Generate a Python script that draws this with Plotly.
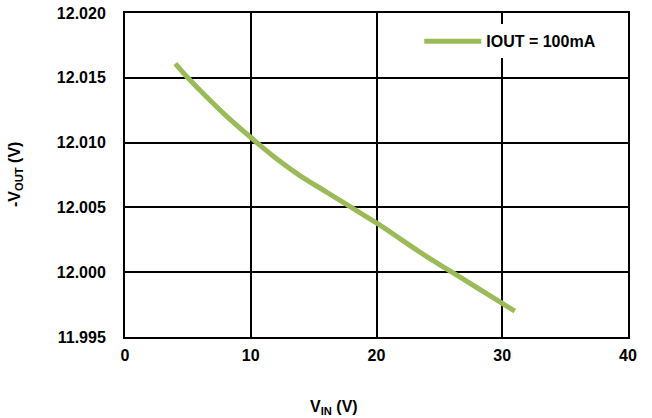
import plotly.graph_objects as go

vin = [4, 5, 6, 8, 10, 12, 14, 16, 18, 20, 22, 24, 26, 28, 30, 31]
vout = [12.0161, 12.0150, 12.0140, 12.0121, 12.0104, 12.0088, 12.0074, 12.0062,
        12.0050, 12.0038, 12.0025, 12.0012, 12.0000, 11.9988, 11.9976, 11.9970]
series_name = "IOUT = 100mA"
x_ticks = [0, 10, 20, 30, 40]
y_ticks = [11.995, 12.000, 12.005, 12.010, 12.015, 12.020]

FONT = "Liberation Sans, Arial, sans-serif"

fig = go.Figure()
fig.add_trace(go.Scatter(
    x=vin, y=vout, mode="lines", name=series_name,
    line=dict(color="#9BBB59", width=5, shape="spline"),
))

fig.update_layout(
    width=652, height=418,
    margin=dict(l=125, r=24, t=13, b=81),
    paper_bgcolor="white", plot_bgcolor="white",
    font=dict(family=FONT, size=16, color="black"),
    showlegend=True,
    legend=dict(
        x=0.585, y=0.965, xanchor="left", yanchor="top",
        bgcolor="white", borderwidth=0,
        font=dict(family=FONT, size=16, color="black", weight="bold"),
        itemwidth=57,
    ),
)

fig.update_xaxes(
    range=[0, 40], tickvals=x_ticks, ticktext=[f"<b>{v}</b>" for v in x_ticks],
    showgrid=True, gridcolor="black", gridwidth=1.5,
    showline=True, linecolor="black", linewidth=2, mirror=True,
    ticks="", zeroline=False, ticklabelstandoff=3, automargin=False,
)
fig.update_yaxes(
    range=[11.995, 12.020], tickvals=y_ticks, ticktext=[f"<b>{v:.3f}</b>" for v in y_ticks],
    showgrid=True, gridcolor="black", gridwidth=1.5,
    showline=True, linecolor="black", linewidth=2, mirror=True,
    ticks="", zeroline=False, ticklabelstandoff=14, automargin=False,
)

fig.add_annotation(
    text="<b>V<sub>IN</sub> (V)</b>", xref="paper", yref="paper",
    x=(334 - 125) / 503, y=-(407 - 337) / 324, xanchor="center", yanchor="middle",
    showarrow=False, font=dict(family=FONT, size=16, color="black"),
)
fig.add_annotation(
    text="<b>-V<sub>OUT</sub> (V)</b>", xref="paper", yref="paper",
    x=-(125 - 15) / 503, y=0.5, xanchor="center", yanchor="middle",
    textangle=-90, showarrow=False, font=dict(family=FONT, size=16, color="black"),
)

fig.write_html(
    "out.html",
    config={"displayModeBar": False},
    post_script="document.body.style.margin='0';document.body.style.overflow='hidden';",
)
